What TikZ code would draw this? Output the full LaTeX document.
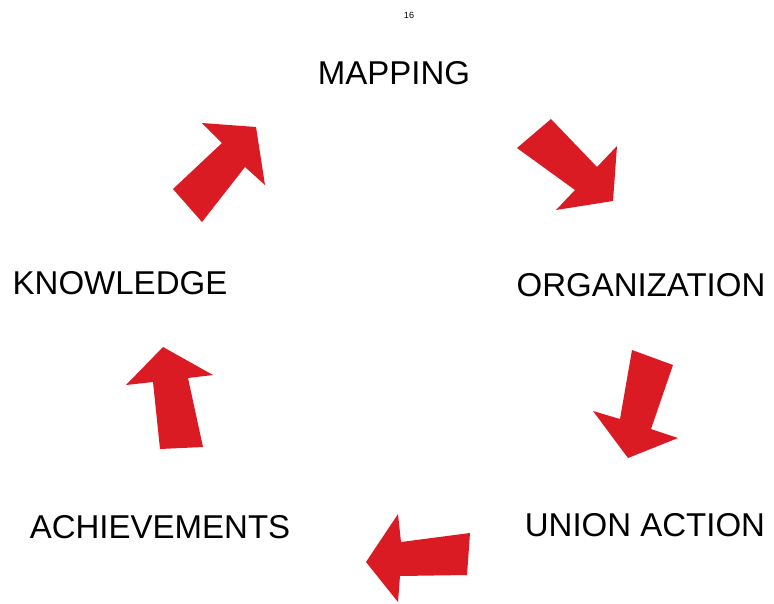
\documentclass[tikz,border=0pt]{standalone}
\usepackage{fontspec}
\setmainfont{Liberation Sans}
\definecolor{cyclered}{RGB}{218,27,35}

\begin{document}
\begin{tikzpicture}[x=1pt,y=-1pt,stage/.style={font=\fontsize{33}{36}\selectfont,inner sep=0pt,anchor=center},bigarrow/.style={fill=cyclered,draw=none}]
\useasboundingbox (0,0) rectangle (774,603);
\node[font=\fontsize{9}{10}\selectfont,inner sep=0pt] (page) at (409,15) {16};
\node[stage] (n0) at (394,73) {MAPPING};
\node[stage] (n1) at (641,285) {ORGANIZATION};
\node[stage] (n2) at (645,525) {UNION ACTION};
\node[stage] (n3) at (160,527) {ACHIEVEMENTS};
\node[stage] (n4) at (120,283) {KNOWLEDGE};
% block arrows going round the cycle
\fill[bigarrow] (551,119) -- (517,148) -- (575,190) -- (556,210) -- (613,201) -- (617,146) -- (597,167) -- cycle;
\fill[bigarrow] (632,350) -- (673,365) -- (651,429) -- (678,438) -- (628,458) -- (593,411) -- (620,419) -- cycle;
\fill[bigarrow] (470,533) -- (467,575) -- (400,576) -- (398,602) -- (366,562) -- (398,514) -- (401,542) -- cycle;
\fill[bigarrow] (160,449) -- (203,447) -- (188,378) -- (213,375) -- (163,347) -- (126,385) -- (153,382) -- cycle;
\fill[bigarrow] (173,189) -- (202,222) -- (245,167) -- (265,185) -- (256,127) -- (202,123) -- (222,143) -- cycle;
\end{tikzpicture}
\end{document}
